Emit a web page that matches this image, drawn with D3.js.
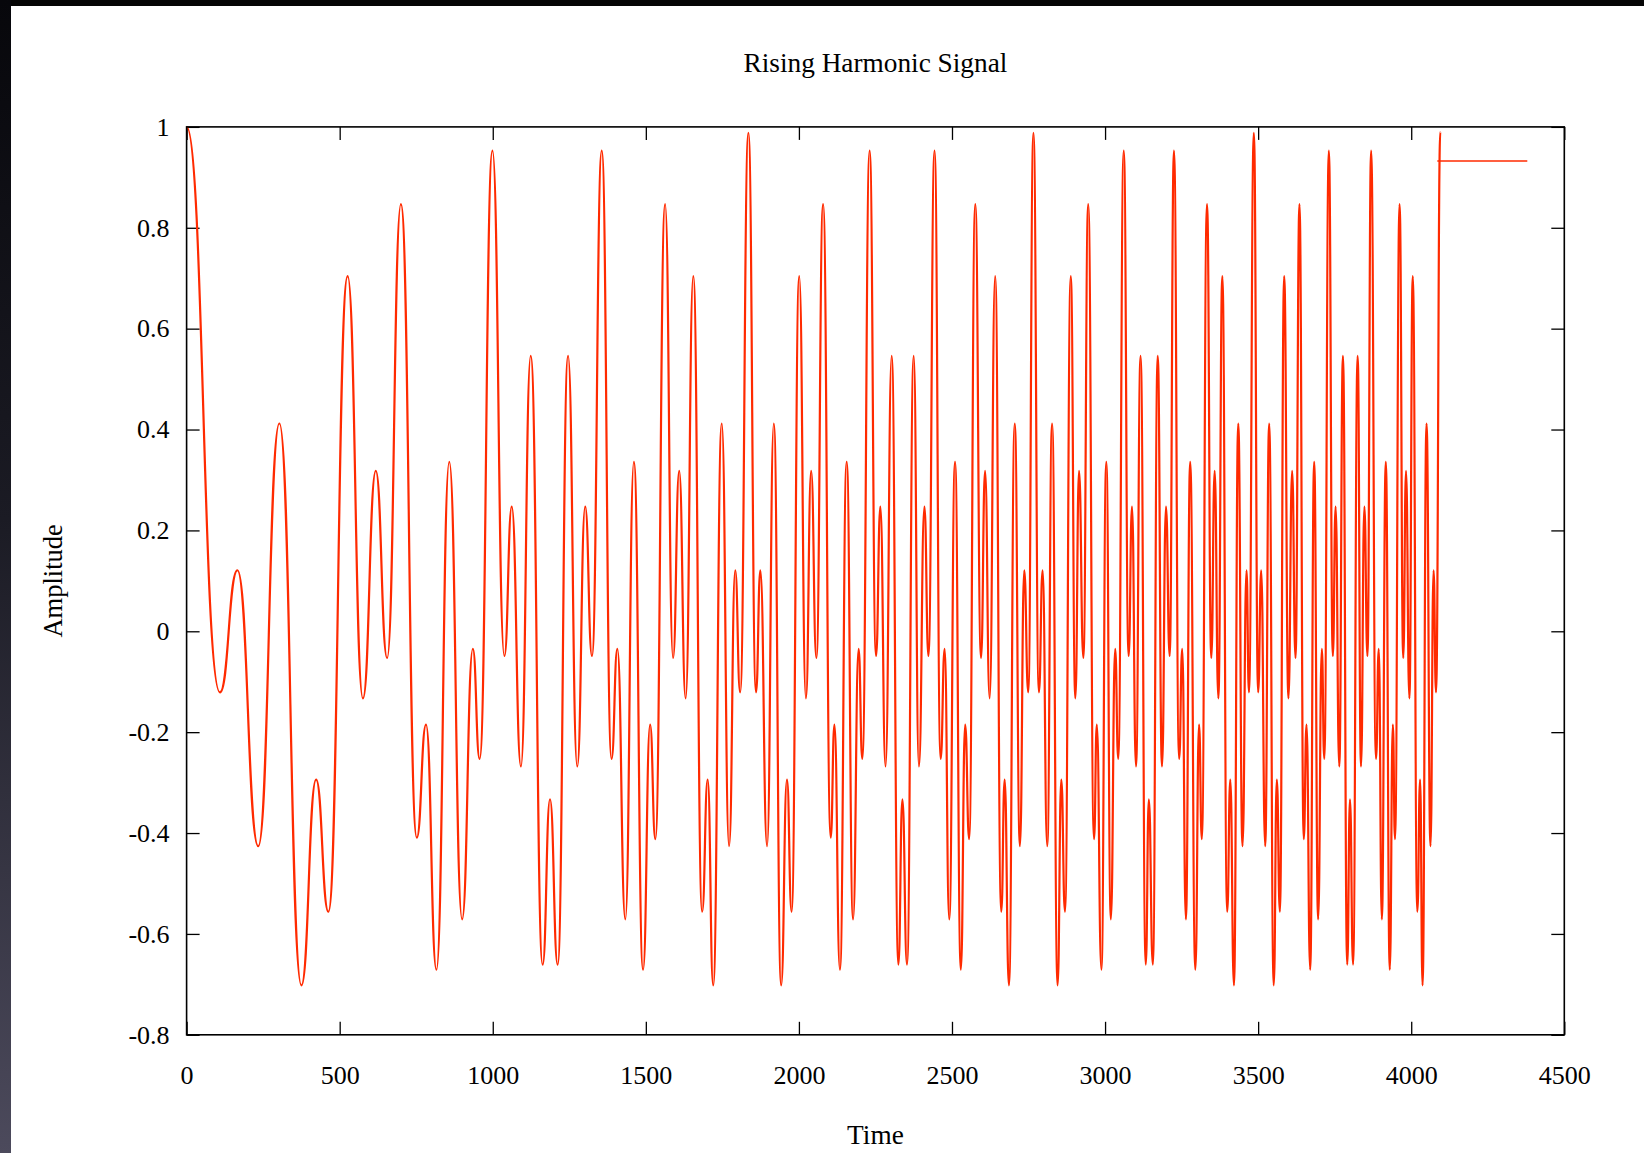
<!DOCTYPE html>
<html>
<head>
<meta charset="utf-8">
<script src="https://cdn.jsdelivr.net/npm/d3@7"></script>
<style>
  html, body { margin: 0; padding: 0; background: #ffffff; }
  svg { display: block; }
  text { font-family: "Liberation Serif", "Times New Roman", serif; fill: #000; }
</style>
</head>
<body>
<svg id="chart" width="1644" height="1153"></svg>
<script>
// ---- data (extrema) ----
const peakTimes = [
  0, 109, 166, 234, 303, 375, 423, 463, 526, 576, 618, 655, 700, 752, 782, 816, 858, 900, 935, 957,
  999, 1038, 1062, 1092, 1124, 1163, 1187, 1212, 1246, 1276, 1302, 1324, 1356, 1388, 1407, 1433, 1461, 1491, 1514, 1531,
  1563, 1589, 1609, 1630, 1655, 1684, 1702, 1720, 1748, 1772, 1792, 1808, 1835,
  1860, 1874, 1896, 1918, 1942, 1961, 1976, 2001, 2023, 2040, 2057, 2079, 2104, 2116, 2134, 2156, 2177, 2195, 2207,
  2231, 2252, 2266, 2283, 2303, 2325, 2338, 2353, 2375, 2392, 2410, 2423, 2443, 2463, 2476, 2491, 2510, 2529, 2543, 2556,
  2576, 2595, 2608, 2623, 2641, 2661, 2672, 2686, 2705, 2722, 2736, 2749, 2766,
  2784, 2796, 2811, 2827, 2845, 2857, 2869, 2888, 2903, 2915, 2929, 2945, 2964, 2973, 2988, 3004, 3019, 3033, 3043,
  3061, 3077, 3088, 3101, 3116, 3133, 3143, 3156, 3172, 3186, 3199, 3211, 3225, 3242, 3252, 3264, 3278, 3295, 3307, 3316,
  3333, 3347, 3358, 3370, 3383, 3399, 3409, 3421, 3435, 3449, 3462, 3470, 3486,
  3500, 3510, 3523, 3536, 3551, 3561, 3571, 3585, 3599, 3611, 3622, 3635, 3649, 3658, 3670, 3683, 3696, 3708, 3716,
  3731, 3744, 3753, 3765, 3777, 3791, 3800, 3810, 3825, 3836, 3847, 3857, 3869, 3885, 3894, 3904, 3917, 3930, 3940, 3947,
  3962, 3974, 3983, 3994, 4005, 4020, 4029, 4037, 4050, 4063, 4073, 4081, 4095
];
const peakValues = [
  1, -0.121, 0.121, -0.426, 0.412, -0.702, -0.294, -0.556, 0.704, -0.133, 0.318, -0.053, 0.847, -0.409, -0.185, -0.671, 0.336, -0.571, -0.035, -0.253,
  0.953, -0.049, 0.247, -0.268, 0.546, -0.661, -0.333, -0.661, 0.546, -0.268, 0.247, -0.049, 0.953, -0.253, -0.035, -0.571, 0.336, -0.671, -0.185, -0.412,
  0.847, -0.053, 0.318, -0.133, 0.704, -0.556, -0.294, -0.702, 0.412, -0.426, 0.121, -0.121, 0.988,
  -0.121, 0.121, -0.426, 0.412, -0.702, -0.294, -0.556, 0.704, -0.133, 0.318, -0.053, 0.847, -0.409, -0.185, -0.671, 0.336, -0.571, -0.035, -0.253,
  0.953, -0.049, 0.247, -0.268, 0.546, -0.661, -0.333, -0.661, 0.546, -0.268, 0.247, -0.049, 0.953, -0.253, -0.035, -0.571, 0.336, -0.671, -0.185, -0.412,
  0.847, -0.053, 0.318, -0.133, 0.704, -0.556, -0.294, -0.702, 0.412, -0.426, 0.121, -0.121, 0.988,
  -0.121, 0.121, -0.426, 0.412, -0.702, -0.294, -0.556, 0.704, -0.133, 0.318, -0.053, 0.847, -0.412, -0.185, -0.671, 0.336, -0.571, -0.035, -0.253,
  0.953, -0.049, 0.247, -0.268, 0.546, -0.661, -0.333, -0.661, 0.546, -0.268, 0.247, -0.049, 0.953, -0.253, -0.035, -0.571, 0.336, -0.671, -0.185, -0.412,
  0.847, -0.053, 0.318, -0.133, 0.704, -0.556, -0.294, -0.702, 0.412, -0.426, 0.121, -0.121, 0.988,
  -0.121, 0.121, -0.426, 0.412, -0.702, -0.294, -0.556, 0.704, -0.133, 0.318, -0.053, 0.847, -0.412, -0.185, -0.671, 0.336, -0.571, -0.035, -0.253,
  0.953, -0.049, 0.247, -0.268, 0.546, -0.661, -0.333, -0.661, 0.546, -0.268, 0.247, -0.049, 0.953, -0.253, -0.035, -0.571, 0.336, -0.671, -0.185, -0.412,
  0.847, -0.053, 0.318, -0.133, 0.704, -0.556, -0.294, -0.702, 0.412, -0.426, 0.121, -0.121, 0.99
];
const xTicks = [0, 500, 1000, 1500, 2000, 2500, 3000, 3500, 4000, 4500];
const xTickLabels = ["0", "500", "1000", "1500", "2000", "2500", "3000", "3500", "4000", "4500"];
const yTicks = [-0.8, -0.6, -0.4, -0.2, 0, 0.2, 0.4, 0.6, 0.8, 1];
const yTickLabels = ["-0.8", "-0.6", "-0.4", "-0.2", "0", "0.2", "0.4", "0.6", "0.8", "1"];
const titleText = "Rising Harmonic Signal";
const xLabelText = "Time";
const yLabelText = "Amplitude";

// ---- layout ----
const W = 1644, H = 1153;
const plot = { left: 186.6, right: 1564.3, top: 126.9, bottom: 1034.8 };
const lineColor = "#ff2a00";

const svg = d3.select("#chart");

// outer screenshot frame (dark strips)
const defs = svg.append("defs");
const grad = defs.append("linearGradient").attr("id", "sideGrad")
  .attr("x1", 0).attr("y1", 0).attr("x2", 0).attr("y2", 1);
grad.append("stop").attr("offset", "0%").attr("stop-color", "#07070b");
grad.append("stop").attr("offset", "45%").attr("stop-color", "#1b1b24");
grad.append("stop").attr("offset", "100%").attr("stop-color", "#4c4a5c");
svg.append("rect").attr("x", 0).attr("y", 0).attr("width", W).attr("height", H).attr("fill", "#ffffff");
svg.append("rect").attr("x", 0).attr("y", 0).attr("width", W).attr("height", 6).attr("fill", "#050505");
svg.append("rect").attr("x", 0).attr("y", 0).attr("width", 11).attr("height", H).attr("fill", "url(#sideGrad)");

const x = d3.scaleLinear().domain([0, 4500]).range([plot.left, plot.right]);
const y = d3.scaleLinear().domain([-0.8, 1]).range([plot.bottom, plot.top]);

const fontSize = 26;
const labelSize = 27.3;
const tickLen = 13;

// bottom axis (inward ticks + labels)
const gx = svg.append("g").attr("transform", `translate(0,${plot.bottom})`)
  .call(d3.axisBottom(x).tickValues(xTicks)
    .tickFormat((d, i) => xTickLabels[i])
    .tickSizeInner(-tickLen).tickSizeOuter(0).tickPadding(31));
// top axis (ticks only)
const gxt = svg.append("g").attr("transform", `translate(0,${plot.top})`)
  .call(d3.axisTop(x).tickValues(xTicks).tickFormat(() => "")
    .tickSizeInner(-tickLen).tickSizeOuter(0));
// left axis
const gy = svg.append("g").attr("transform", `translate(${plot.left},0)`)
  .call(d3.axisLeft(y).tickValues(yTicks)
    .tickFormat((d, i) => yTickLabels[i])
    .tickSizeInner(-tickLen).tickSizeOuter(0).tickPadding(17));
// right axis (ticks only)
const gyr = svg.append("g").attr("transform", `translate(${plot.right},0)`)
  .call(d3.axisRight(y).tickValues(yTicks).tickFormat(() => "")
    .tickSizeInner(-tickLen).tickSizeOuter(0));

[gx, gxt, gy, gyr].forEach(g => {
  g.select(".domain").remove();
  g.selectAll(".tick line").attr("stroke", "#000").attr("stroke-width", 1.3);
  g.selectAll(".tick text")
    .attr("fill", "#000")
    .style("font-family", '"Liberation Serif", "Times New Roman", serif')
    .style("font-size", fontSize + "px");
});

// clip for the data line
defs.append("clipPath").attr("id", "plotClip")
  .append("rect")
  .attr("x", plot.left).attr("y", plot.top - 2)
  .attr("width", plot.right - plot.left).attr("height", plot.bottom - plot.top + 4);

// data line: each point is an extremum, so horizontal tangents at every point
const pts = peakTimes.map((t, i) => [t, peakValues[i]]);
const line = d3.line()
  .x(d => x(d[0]))
  .y(d => y(d[1]))
  .curve(d3.curveBumpX);

svg.append("path")
  .datum(pts)
  .attr("clip-path", "url(#plotClip)")
  .attr("fill", "none")
  .attr("stroke", lineColor)
  .attr("stroke-width", 2.2)
  .attr("stroke-linejoin", "round")
  .attr("d", line);

// plot border
svg.append("rect")
  .attr("x", plot.left).attr("y", plot.top)
  .attr("width", plot.right - plot.left).attr("height", plot.bottom - plot.top)
  .attr("fill", "none").attr("stroke", "#000").attr("stroke-width", 1.6);

// key sample line (empty title)
svg.append("line")
  .attr("x1", plot.right - 127).attr("x2", plot.right - 37)
  .attr("y1", plot.top + 34).attr("y2", plot.top + 34)
  .attr("stroke", lineColor).attr("stroke-width", 1.5);

// title and axis labels
svg.append("text")
  .attr("x", (plot.left + plot.right) / 2).attr("y", 72)
  .attr("text-anchor", "middle")
  .style("font-size", labelSize + "px")
  .text(titleText);

svg.append("text")
  .attr("x", (plot.left + plot.right) / 2).attr("y", 1144)
  .attr("text-anchor", "middle")
  .style("font-size", labelSize + "px")
  .text(xLabelText);

svg.append("text")
  .attr("transform", `translate(62,${(plot.top + plot.bottom) / 2}) rotate(-90)`)
  .attr("text-anchor", "middle")
  .style("font-size", "26.5px")
  .text(yLabelText);
</script>
</body>
</html>
